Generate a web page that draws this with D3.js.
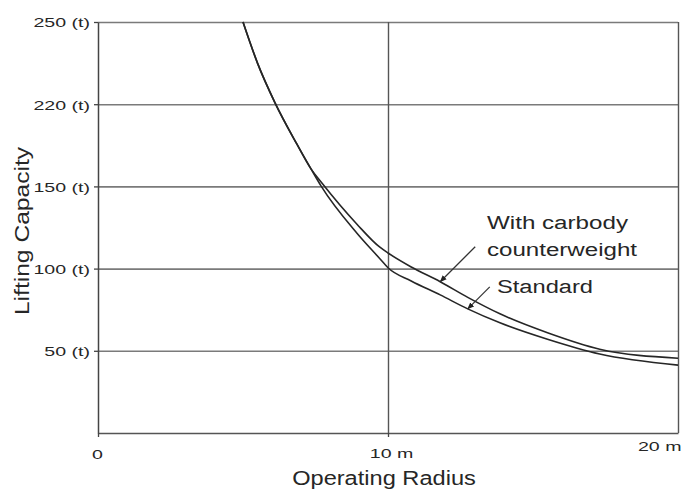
<!DOCTYPE html>
<html><head><meta charset="utf-8">
<script src="https://cdn.jsdelivr.net/npm/d3@7"></script>
<style>body{margin:0;background:#fff}svg{display:block;font-family:"Liberation Sans",Arial,sans-serif}</style>
</head><body><svg width="682" height="492"></svg>
<script>
// ---- data ----
const radius            = [5.0, 5.5, 6.1, 6.85, 7.35, 7.7, 8.93, 9.72, 10.0, 10.8, 11.8, 12.75, 13.86, 15.5, 17.3, 20.0];
const standardCapacity  = [250, 225, 201, 176, 160.5, 150, 121.5, 106, 100.5, 92.5, 84, 75.5, 67, 57, 48, 41.3];
const carbodyCapacity   = [250, 225, 201, 176, 160.5, 152.5, 127, 113, 109.5, 101, 92, 82.5, 72.5, 61, 51, 45.5];
const yTickValues = [50, 100, 150, 200, 250];
const yTickLabels = ["50 (t)", "100 (t)", "150 (t)", "220 (t)", "250 (t)"];
const xTickValues = [0, 10, 20];
const xTickLabels = ["0", "10 m", "20 m"];
const carbodyLabel = ["With carbody", "counterweight"];
const standardLabel = ["Standard"];
const xTitle = "Operating Radius";
const yTitle = "Lifting Capacity";

// ---- chart ----
const svg = d3.select("svg");
const x = d3.scaleLinear().domain([0, 20]).range([98, 678]);
const y = d3.scaleLinear().domain([0, 250]).range([433, 22]);
const ink = "#262626";

function stretch(sel, k) {
  sel.each(function () {
    const len = this.getComputedTextLength();
    d3.select(this).attr("textLength", len * k).attr("lengthAdjust", "spacingAndGlyphs");
  });
}

// horizontal gridlines
svg.append("g").attr("transform", `translate(${x(0)},0)`)
  .call(d3.axisLeft(y).tickValues(yTickValues).tickSize(-(x(20) - x(0))).tickFormat(""))
  .call(g => g.select(".domain").remove())
  .selectAll("line").attr("stroke", "#7a7a7a").attr("stroke-width", 1.6);

// vertical gridline (10 m) and right border (20 m)
svg.append("g").attr("transform", `translate(0,${y(0)})`)
  .call(d3.axisBottom(x).tickValues([10, 20]).tickSize(-(y(0) - y(250))).tickFormat(""))
  .call(g => g.select(".domain").remove())
  .selectAll("line").attr("stroke", "#555").attr("stroke-width", 1.4);

// y axis
const yAxis = svg.append("g").attr("transform", `translate(${x(0)},0)`)
  .call(d3.axisLeft(y).tickValues(yTickValues).tickSize(4).tickSizeOuter(0).tickPadding(4)
    .tickFormat((d, i) => yTickLabels[i]));
yAxis.select(".domain").attr("stroke", "#444").attr("stroke-width", 1.5);
yAxis.selectAll(".tick line").attr("stroke", "#444").attr("stroke-width", 1.3);
yAxis.selectAll("text").attr("font-size", 13.5).attr("fill", ink).attr("font-family", "Liberation Sans, Arial, sans-serif")
  .attr("dy", "0.36em").call(stretch, 1.45);

// x axis
const xAxis = svg.append("g").attr("transform", `translate(0,${y(0)})`)
  .call(d3.axisBottom(x).tickValues(xTickValues).tickSize(4).tickSizeOuter(0).tickPadding(11)
    .tickFormat((d, i) => xTickLabels[i]));
xAxis.select(".domain").attr("stroke", "#555").attr("stroke-width", 1.5);
xAxis.selectAll(".tick line").attr("stroke", "#444").attr("stroke-width", 1.3);
xAxis.selectAll(".tick line").filter(d => d === 20).remove();
xAxis.selectAll("text").attr("font-size", 13.5).attr("fill", ink).attr("font-family", "Liberation Sans, Arial, sans-serif")
  .call(stretch, 1.45);
xAxis.selectAll("text").filter(d => d === 0).attr("dy", "0.85em").attr("dx", -1);
xAxis.selectAll("text").filter(d => d === 10).attr("dx", 3);
xAxis.selectAll("text").filter(d => d === 20).attr("text-anchor", "end").attr("dx", 3).attr("dy", "0.2em");

// axis titles
svg.append("text").attr("x", 384).attr("y", 485).attr("text-anchor", "middle")
  .attr("font-size", 20).attr("fill", ink).text(xTitle).call(stretch, 1.18);
svg.append("text").attr("transform", `translate(29,${231}) rotate(-90)`).attr("text-anchor", "middle")
  .attr("font-size", 20).attr("fill", ink).text(yTitle).call(stretch, 1.23);

// curves
const line = d3.line().x(d => x(d[0])).y(d => y(d[1])).curve(d3.curveMonotoneX);
const standardPts = radius.map((r, i) => [r, standardCapacity[i]]);
const carbodyPts = radius.map((r, i) => [r, carbodyCapacity[i]]);
svg.append("path").datum(carbodyPts).attr("d", line).attr("fill", "none")
  .attr("stroke", "#262626").attr("stroke-width", 1.6);
svg.append("path").datum(standardPts).attr("d", line).attr("fill", "none")
  .attr("stroke", "#262626").attr("stroke-width", 1.6);

// arrow marker
svg.append("defs").append("marker").attr("id", "ah").attr("viewBox", "0 0 10 10")
  .attr("refX", 9).attr("refY", 5).attr("markerWidth", 7).attr("markerHeight", 7)
  .attr("markerUnits", "userSpaceOnUse").attr("orient", "auto")
  .append("path").attr("d", "M0,1L10,5L0,9Z").attr("fill", "#222");

// annotations
const cTip = [x(radius[10]), y(carbodyCapacity[10])];
const sTip = [x(radius[11]), y(standardCapacity[11])];
svg.append("line").attr("x1", cTip[0] + 35).attr("y1", cTip[1] - 35).attr("x2", cTip[0]).attr("y2", cTip[1])
  .attr("stroke", "#333").attr("stroke-width", 1.3).attr("marker-end", "url(#ah)");
svg.append("line").attr("x1", sTip[0] + 22).attr("y1", sTip[1] - 22).attr("x2", sTip[0]).attr("y2", sTip[1])
  .attr("stroke", "#333").attr("stroke-width", 1.3).attr("marker-end", "url(#ah)");

const labelLen = {"With carbody": 141, "counterweight": 150, "Standard": 96};
svg.append("text").attr("x", 487).attr("y", 229).attr("font-size", 18).attr("fill", ink)
  .attr("textLength", labelLen[carbodyLabel[0]]).attr("lengthAdjust", "spacingAndGlyphs").text(carbodyLabel[0]);
svg.append("text").attr("x", 487).attr("y", 256).attr("font-size", 18).attr("fill", ink)
  .attr("textLength", labelLen[carbodyLabel[1]]).attr("lengthAdjust", "spacingAndGlyphs").text(carbodyLabel[1]);
svg.append("text").attr("x", 497).attr("y", 293).attr("font-size", 18).attr("fill", ink)
  .attr("textLength", labelLen[standardLabel[0]]).attr("lengthAdjust", "spacingAndGlyphs").text(standardLabel[0]);
</script>
</body></html>
